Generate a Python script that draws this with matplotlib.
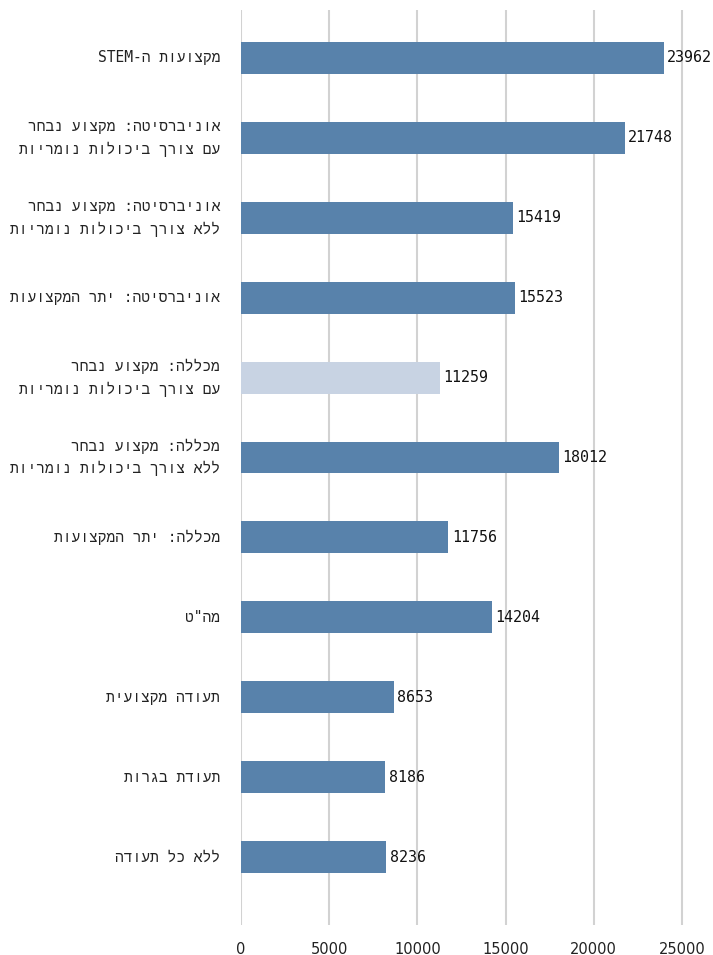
import re
import matplotlib
matplotlib.use("Agg")
import matplotlib.pyplot as plt

categories = [
    "מקצועות ה-STEM",
    "אוניברסיטה: מקצוע נבחר\nעם צורך ביכולות נומריות",
    "אוניברסיטה: מקצוע נבחר\nללא צורך ביכולות נומריות",
    "אוניברסיטה: יתר המקצועות",
    "מכללה: מקצוע נבחר\nעם צורך ביכולות נומריות",
    "מכללה: מקצוע נבחר\nללא צורך ביכולות נומריות",
    "מכללה: יתר המקצועות",
    "מה\"ט",
    "תעודה מקצועית",
    "תעודת בגרות",
    "ללא כל תעודה",
]
values = [23962, 21748, 15419, 15523, 11259, 18012, 11756, 14204, 8653, 8186, 8236]
highlight = [False, False, False, False, True, False, False, False, False, False, False]
x_ticks = [0, 5000, 10000, 15000, 20000, 25000]

BASE = "#5882ab"
LIGHT = "#c8d3e3"
MONO = ["DejaVu Sans Mono", "Liberation Mono", "DejaVu Sans"]


def visual(text):
    """Lay out right-to-left text for a left-to-right renderer."""
    out = []
    for line in text.split("\n"):
        rev = line[::-1]
        rev = re.sub(r"[A-Za-z0-9]+", lambda m: m.group(0)[::-1], rev)
        out.append(rev)
    return "\n".join(out)


fig = plt.figure(figsize=(7.13, 9.55), dpi=100)
W, H = 713, 955
left, right, top, bottom = 241, 713, 10, 925
ax = fig.add_axes([left / W, 1 - bottom / H, (right - left) / W, (bottom - top) / H])

pos = list(range(len(values)))
colors = [LIGHT if h else BASE for h in highlight]
ax.barh(pos, values, height=0.4, color=colors, zorder=2)

px_per_unit = 17.64 / 1000
ax.set_xlim(0, (right - left) / px_per_unit)
ax.set_ylim(len(values) - 1 + 0.85, -0.6)

ax.set_xticks(x_ticks)
ax.set_xticklabels([str(t) for t in x_ticks], fontsize=10.5, family="DejaVu Sans", color="#222222")
ax.tick_params(axis="x", length=0, pad=12)
ax.set_yticks([])
ax.grid(axis="x", color="#d2d2d2", linewidth=1.5, zorder=0)
for s in ax.spines.values():
    s.set_visible(False)

for p, v, lab in zip(pos, values, categories):
    ax.annotate(str(v), xy=(v, p), xytext=(2.5, 0), textcoords="offset points",
                ha="left", va="center", fontsize=10.8, family=MONO, color="#111111")
    ax.annotate(visual(lab), xy=(0, p), xytext=(-15, 0), textcoords="offset points",
                ha="right", va="center", fontsize=10.5, family=MONO, color="#222222",
                multialignment="right", linespacing=1.6)

fig.savefig("out.png", dpi=100)
